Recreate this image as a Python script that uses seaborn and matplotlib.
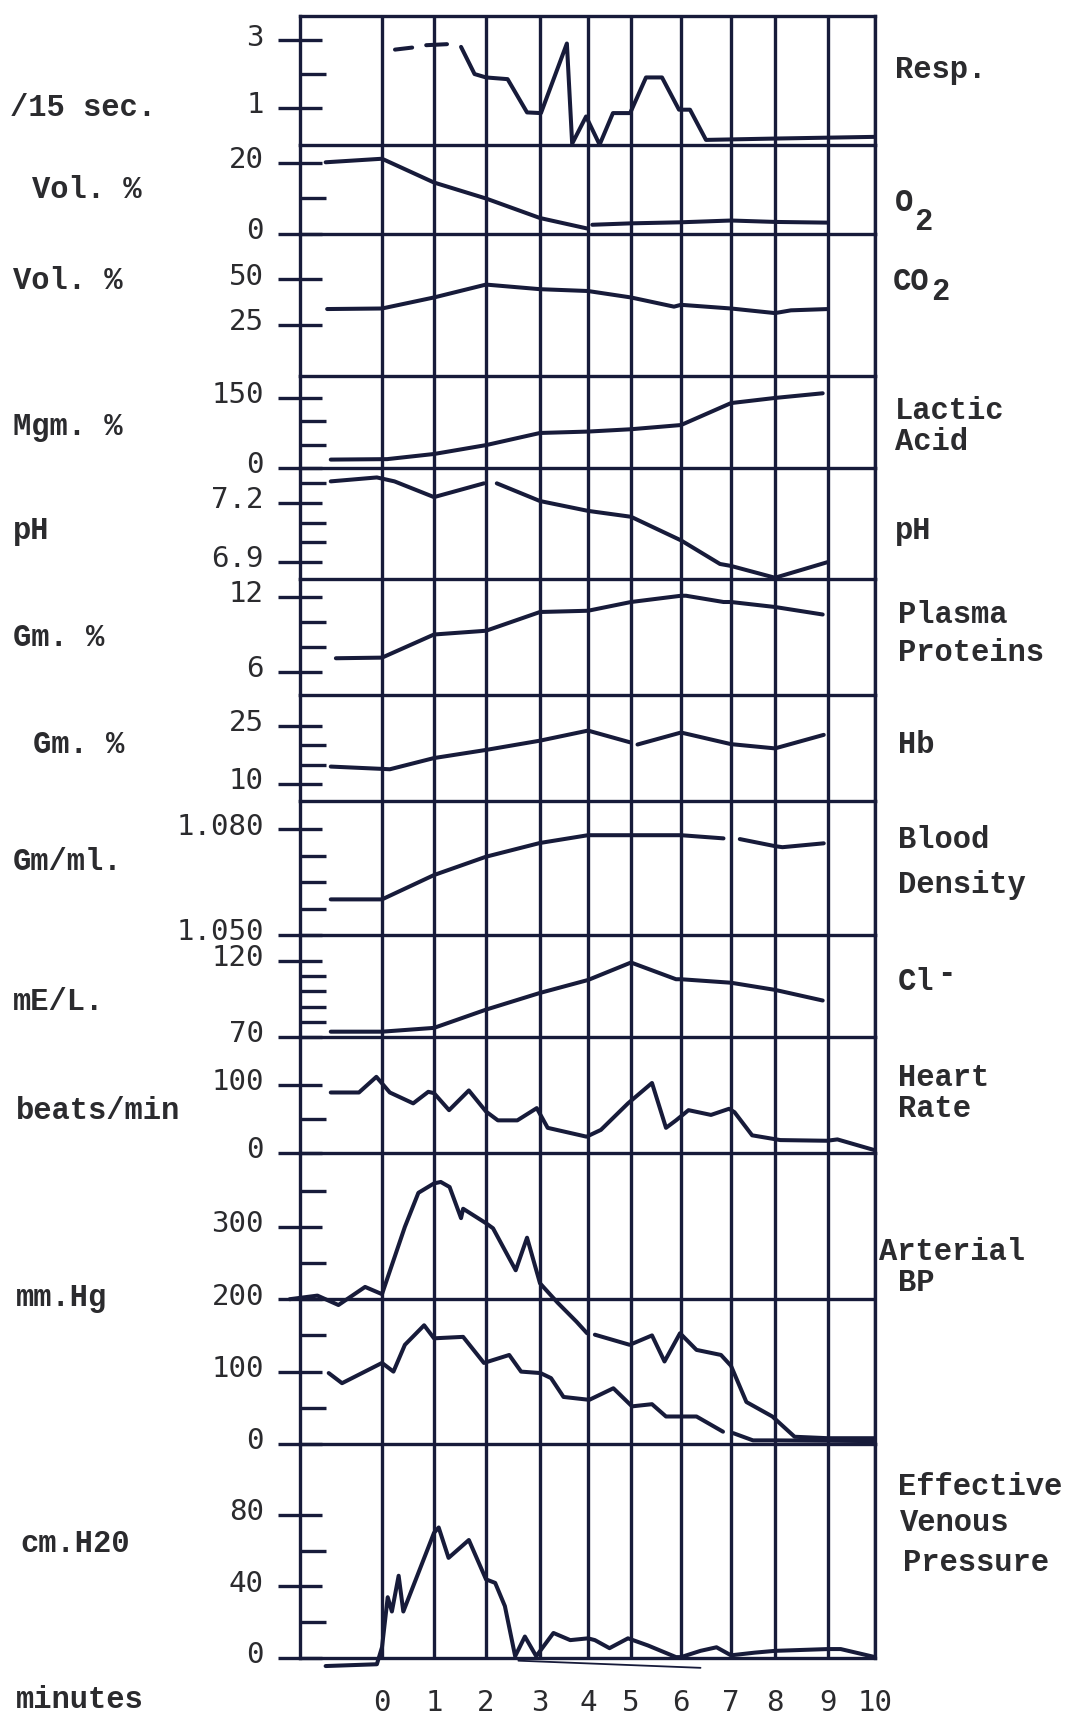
import numpy as np
import pandas as pd
import matplotlib
matplotlib.use("Agg")
import matplotlib.pyplot as plt
import matplotlib.transforms as mtransforms
from matplotlib.ticker import FixedLocator, FixedFormatter, NullLocator
import seaborn as sns

# ---------------- data ----------------
minute_ticks = list(range(11))
minute_labels = [str(m) for m in minute_ticks]

# Respiration, /15 sec
resp_t = [0.25, 0.58, 0.85, 1.25,
          1.52, 1.78, 2.0, 2.4, 2.76, 3.02, 3.56, 3.67, 3.96, 4.27, 4.58, 4.98,
          5.3, 5.62, 5.96, 6.18, 6.5, 8.0, 10.0]
resp_v = [2.72, 2.78, 2.85, 2.88,
          2.8, 2.0, 1.9, 1.85, 0.87, 0.85, 2.9, -0.05, 0.75, -0.08, 0.85, 0.85,
          1.9, 1.9, 0.95, 0.95, 0.06, 0.1, 0.15]
resp_seg = [0, 0, 1, 1] + [2] * 19

# O2, Vol. %
o2_t = [-1.1, 0, 1, 2, 3, 4, 4.1, 5, 6, 7, 8, 9]
o2_v = [20.2, 21.2, 14.5, 10.0, 4.5, 1.5, 2.6, 3.0, 3.3, 3.8, 3.4, 3.2]
o2_seg = [0] * 6 + [1] * 6

# CO2, Vol. %
co2_t = [-1.07, 0, 1, 2, 3, 4, 5, 5.86, 6, 7, 8, 8.3, 9]
co2_v = [33.7, 34, 40, 47, 44.5, 43.5, 40, 35, 36, 34, 31.5, 33, 33.7]

# Lactic acid, Mgm. %
lac_t = [-1.0, 0.1, 1, 2, 3, 4, 5, 6, 7, 8, 8.9]
lac_v = [18, 19, 30, 49, 75, 78, 83, 92, 139, 150, 160]

# pH
ph_t = [-1.0, -0.1, 0.24, 1, 1.96, 2.2, 3, 4, 5, 6, 6.78, 7, 8, 9]
ph_v = [7.31, 7.33, 7.31, 7.23, 7.30, 7.30, 7.21, 7.16, 7.13, 7.01, 6.89, 6.88, 6.82, 6.90]
ph_seg = [0] * 5 + [1] * 9

# Plasma proteins, Gm. %
pp_t = [-0.9, 0, 1, 2, 3, 4, 5, 6, 6.1, 6.85, 7, 8, 8.9]
pp_v = [7.1, 7.15, 9.0, 9.3, 10.8, 10.9, 11.6, 12.1, 12.1, 11.6, 11.6, 11.2, 10.6]

# Hb, Gm. %
hb_t = [-1.0, 0, 0.15, 1, 2, 3, 4, 5, 5.13, 6, 7, 8, 8.92]
hb_v = [14.5, 13.9, 13.8, 16.7, 18.8, 21.2, 23.8, 20.7, 20.2, 23.3, 20.3, 19.2, 22.7]
hb_seg = [0] * 8 + [1] * 5

# Blood density, Gm/ml.
den_t = [-1.0, 0, 1, 2, 3, 4, 5, 6, 6.85, 7.2, 8, 8.14, 8.92]
den_v = [1.0601, 1.0601, 1.0670, 1.0722, 1.0761, 1.0783, 1.0783, 1.0783, 1.0774,
         1.0772, 1.0752, 1.0749, 1.0760]
den_seg = [0] * 9 + [1] * 4

# Cl-, mE/L.
cl_t = [-1.0, 0, 1, 2, 3, 4, 5, 5.9, 6, 7, 8, 8.9]
cl_v = [73.5, 73.5, 76, 88, 99, 107.5, 119, 108, 108, 105.7, 101, 94]

# Heart rate, beats/min
hr_t = [-1.0, -0.45, -0.11, 0.15, 0.6, 0.89, 1, 1.29, 1.67, 2, 2.22, 2.58, 2.94,
        3.16, 3.97, 4.3, 4.93, 5.42, 5.7, 5.9, 6.15, 6.6, 6.96, 7.08, 7.48, 8.1,
        8.98, 9.2, 10]
hr_v = [89, 89, 112, 89, 73, 90, 88, 63, 92, 61, 48, 48, 66,
        37, 24, 34, 73, 103, 37, 48, 63, 56, 65, 60, 26, 19,
        18, 20, 4]

# Arterial BP, mm.Hg (systolic / diastolic)
bps_t = [-1.8, -1.26, -0.85, -0.33, 0, 0.44, 0.7, 1, 1.13, 1.3, 1.52, 1.56, 2, 2.13,
         2.55, 2.76, 3, 3.37, 3.76, 3.98, 4.16, 4.97, 5.42, 5.67, 5.98, 6.31, 6.8,
         7, 7.35, 7.94, 8.37, 9, 10]
bps_v = [200, 205, 192, 217, 207, 300, 347, 360, 362, 355, 312, 325, 305, 298,
         240, 285, 222, 195, 169, 153, 151, 137, 150, 114, 153, 130, 123,
         108, 58, 38, 10, 8, 8]
bps_seg = [0] * 20 + [1] * 13
bpd_t = [-1.04, -0.78, 0, 0.22, 0.44, 0.81, 1, 1.56, 1.96, 2.43, 2.65, 3.01, 3.23,
         3.49, 4.03, 4.59, 5.02, 5.42, 5.7, 6.31, 6.84, 7.05, 7.5, 8, 10]
bpd_v = [98, 84, 112, 100, 137, 164, 146, 148, 112, 123, 100, 98, 91,
         65, 61, 77, 52, 55, 38, 38, 17, 15, 5, 5, 4]
bpd_seg = [0] * 21 + [1] * 4

# Effective venous pressure, cm.H20
evp_t = [-1.1, -0.1, 0, 0.11, 0.19, 0.32, 0.41, 1, 1.09, 1.28, 1.67, 2, 2.17, 2.35,
         2.54, 2.72, 2.93, 3.28, 3.63, 4, 4.16, 4.5, 4.93, 5.34, 5.9, 6, 6.39,
         6.71, 7, 7.54, 8, 9, 9.27, 10]
evp_v = [-4.5, -3.5, 6, 34, 26, 46, 26, 70, 73, 56, 66, 44, 42, 29,
         1, 12, 1, 14, 10, 11, 10, 5.5, 11, 7, 0.5, 0.5, 4,
         6, 1.5, 3, 4, 5, 5, 0.5]
evp_stray_t = [2.6, 6.39]
evp_stray_v = [-1.5, -5.5]

# ---------------- styling / layout ----------------
INK = "#171b3a"
TXT = "#2b2b2e"
W, H = 1082, 1717
X_LEFT, X_RIGHT = 300, 875
BOUNDS = [16, 145, 234, 376, 468, 579, 695, 801, 935, 1037, 1153, 1444, 1658]
# hand-drawn minute grid is unevenly spaced: minutes -> paper position
MIN_ANCH = [-4.0, -1.6, 0, 1, 2, 3, 4, 5, 6, 7, 8, 9, 10, 12]
PX_ANCH = [175, 300, 382, 434, 486, 540, 588, 631, 681, 731, 775, 828, 875, 969]
LW_DATA = 2.9
LW_GRID = 2.4


def fwd(x):
    return np.interp(x, MIN_ANCH, PX_ANCH)


def inv(p):
    return np.interp(p, PX_ANCH, MIN_ANCH)


sns.set_style("white")
plt.rcParams["font.family"] = ["DejaVu Sans Mono", "DejaVu Sans"]

panels = [
    dict(ylim=(-0.09, 3.71), major=[1, 3], labels=["1", "3"], minor=[2],
         series=[(resp_t, resp_v, resp_seg)]),
    dict(ylim=(0, 25.07), major=[0, 20], labels=["0", "20"], minor=[10],
         series=[(o2_t, o2_v, o2_seg)]),
    dict(ylim=(-2.7, 74.5), major=[25, 50], labels=["25", "50"], minor=[],
         series=[(co2_t, co2_v, None)]),
    dict(ylim=(0, 197), major=[0, 150], labels=["0", "150"], minor=[50, 100],
         series=[(lac_t, lac_v, None)]),
    dict(ylim=(6.8136, 7.378), major=[6.9, 7.2], labels=["6.9", "7.2"],
         minor=[7.0, 7.1, 7.3], series=[(ph_t, ph_v, ph_seg)]),
    dict(ylim=(4.16, 13.44), major=[6, 12], labels=["6", "12"], minor=[8, 10],
         series=[(pp_t, pp_v, None)]),
    dict(ylim=(5.6, 33.0), major=[10, 25], labels=["10", "25"], minor=[15, 20],
         series=[(hb_t, hb_v, hb_seg)]),
    dict(ylim=(1.050, 1.0880), major=[1.050, 1.080], labels=["1.050", "1.080"],
         minor=[1.0575, 1.065, 1.0725], series=[(den_t, den_v, den_seg)]),
    dict(ylim=(70, 137.1), major=[70, 120], labels=["70", "120"],
         minor=[80, 90, 100, 110], series=[(cl_t, cl_v, None)]),
    dict(ylim=(0, 170.6), major=[0, 100], labels=["0", "100"], minor=[50],
         series=[(hr_t, hr_v, None)]),
    dict(ylim=(0, 402), major=[0, 100, 200, 300], labels=["0", "100", "200", "300"],
         minor=[50, 150, 250, 350],
         series=[(bps_t, bps_v, bps_seg), (bpd_t, bpd_v, bpd_seg)]),
    dict(ylim=(0, 119.7), major=[0, 40, 80], labels=["0", "40", "80"], minor=[20, 60],
         series=[(evp_t, evp_v, None)]),
]

fig = plt.figure(figsize=(W / 100, H / 100), dpi=100)
fig.patch.set_facecolor("white")
label_shift = mtransforms.ScaledTranslation(0, 4 / 72, fig.dpi_scale_trans)

axes = []
n = len(panels)
for i, p in enumerate(panels):
    top, bot = BOUNDS[i], BOUNDS[i + 1]
    rect = [X_LEFT / W, 1 - bot / H, (X_RIGHT - X_LEFT) / W, (bot - top) / H]
    ax = fig.add_axes(rect, sharex=axes[0] if axes else None)
    ax.set_facecolor("none")
    ax.set_xscale("function", functions=(fwd, inv))
    for (t, v, seg) in p["series"]:
        df = pd.DataFrame({"t": t, "v": v,
                           "seg": seg if seg is not None else [0] * len(t)})
        sns.lineplot(data=df, x="t", y="v", units="seg", estimator=None, sort=False,
                     color=INK, linewidth=LW_DATA, ax=ax, legend=False, clip_on=False,
                     solid_joinstyle="round", solid_capstyle="round")
    if i == n - 1:
        sdf = pd.DataFrame({"t": evp_stray_t, "v": evp_stray_v})
        sns.lineplot(data=sdf, x="t", y="v", estimator=None, sort=False, color=INK,
                     linewidth=1.3, ax=ax, legend=False, clip_on=False)
    if i == 10:
        ax.axhline(200, color=INK, lw=LW_GRID, zorder=1)
    ax.set_xlabel("")
    ax.set_ylabel("")
    ax.set_xlim(-1.6, 10)
    ax.set_ylim(*p["ylim"])

    # spines
    for s in ["left", "right", "bottom", "top"]:
        ax.spines[s].set_color(INK)
        ax.spines[s].set_linewidth(LW_GRID)
    ax.spines["top"].set_visible(i == 0)

    # minute grid
    ax.set_xticks(minute_ticks)
    ax.set_xticklabels(minute_labels)
    ax.xaxis.set_minor_locator(NullLocator())
    ax.grid(False)
    ax.grid(axis="x", which="major", color=INK, linewidth=LW_GRID, zorder=0)
    ax.tick_params(axis="x", length=0, pad=22, labelsize=21, labelcolor=TXT,
                   labelbottom=(i == n - 1))

    # y ticks
    ax.yaxis.set_major_locator(FixedLocator(p["major"]))
    ax.yaxis.set_major_formatter(FixedFormatter(p["labels"]))
    ax.yaxis.set_minor_locator(FixedLocator(p["minor"]))
    ax.tick_params(axis="y", which="major", direction="inout", length=32, width=LW_GRID,
                   color=INK, pad=10, labelsize=21, labelcolor=TXT, left=True)
    ax.tick_params(axis="y", which="minor", direction="in", length=19, width=LW_GRID,
                   color=INK, left=True)
    for lab in ax.yaxis.get_majorticklabels():
        lab.set_transform(lab.get_transform() + label_shift)
    axes.append(ax)

WORD = dict(family=["Liberation Mono", "DejaVu Sans Mono"], fontsize=22,
            fontweight="bold", color=TXT)


def ftxt(x, y, s, **kw):
    opts = dict(WORD)
    opts.update(kw)
    fig.text(x / W, 1 - y / H, s, ha="left", va="center", **opts)


# left unit labels
ftxt(10, 108, "/15 sec.")
ftxt(32, 190, "Vol. %")
ftxt(13, 281, "Vol. %")
ftxt(13, 427, "Mgm. %")
ftxt(13, 531, "pH")
ftxt(13, 638, "Gm. %")
ftxt(33, 745, "Gm. %")
ftxt(13, 862, "Gm/ml.")
ftxt(13, 1002, "mE/L.")
ftxt(16, 1111, "beats/min")
ftxt(16, 1298, "mm.Hg")
ftxt(20, 1544, "cm.H20")
ftxt(16, 1700, "minutes")

# right variable labels
ftxt(895, 70, "Resp.")
ftxt(895, 203, "O")
ftxt(914, 222, "2")
ftxt(893, 282, "CO")
ftxt(931, 292, "2")
ftxt(895, 411, "Lactic")
ftxt(895, 442, "Acid")
ftxt(895, 531, "pH")
ftxt(898, 615, "Plasma")
ftxt(898, 653, "Proteins")
ftxt(898, 745, "Hb")
ftxt(898, 840, "Blood")
ftxt(898, 885, "Density")
ftxt(898, 982, "Cl")
ftxt(937, 974, "-")
ftxt(898, 1078, "Heart")
ftxt(898, 1109, "Rate")
ftxt(879, 1252, "Arterial")
ftxt(898, 1283, "BP")
ftxt(898, 1487, "Effective")
ftxt(900, 1523, "Venous")
ftxt(903, 1563, "Pressure")

fig.savefig("out.png", dpi=100, facecolor="white")
